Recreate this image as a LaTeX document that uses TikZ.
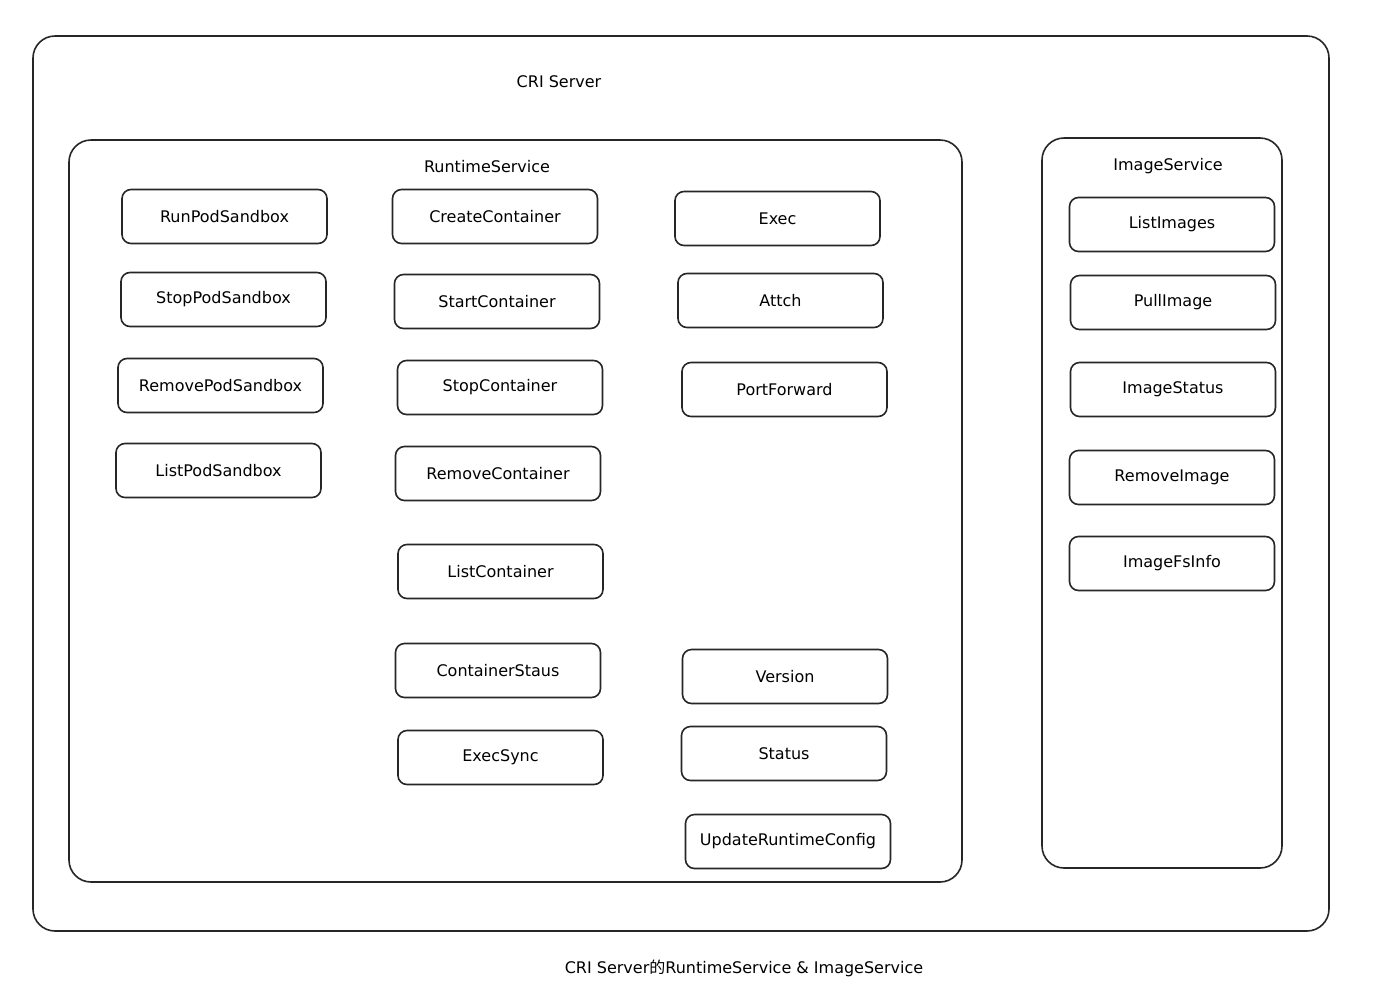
\documentclass[tikz,border=0pt]{standalone}
\usepackage{fontspec}
\setmainfont{DejaVu Sans}
\newfontfamily\cjk{Noto Sans CJK SC}
\begin{document}
\begin{tikzpicture}[x=1pt,y=-1pt,
  frame/.style={draw=black!85,line width=1.6pt,rounded corners=22pt},
  op/.style={draw=black!85,line width=1.6pt,rounded corners=9pt,minimum width=205pt,minimum height=54pt,inner sep=0pt,font=\fontsize{16}{19}\selectfont},
  lbl/.style={font=\fontsize{16}{19}\selectfont,inner sep=0pt}]
\useasboundingbox (0,0) rectangle (1376,994);
\draw[frame] (33,36) rectangle (1329,931);
\node[lbl] (crititle) at (559,82) {CRI Server};
\draw[frame] (69,140) rectangle (962,882);
\node[lbl] (rttitle) at (487,167) {RuntimeService};
\draw[frame] (1042,138) rectangle (1282,868);
\node[lbl] (imgtitle) at (1168,166) {ImageService};
% column 1
\node[op] (runpod) at (224.5,216.5) {RunPodSandbox};
\node[op] (stoppod) at (223.5,299.5) {StopPodSandbox};
\node[op] (rmpod) at (220.5,385.5) {RemovePodSandbox};
\node[op] (listpod) at (218.5,470.5) {ListPodSandbox};
% column 2
\node[op] (create) at (495,216.5) {CreateContainer};
\node[op] (start) at (497,301.5) {StartContainer};
\node[op] (stop) at (500,387.5) {StopContainer};
\node[op] (remove) at (498,473.5) {RemoveContainer};
\node[op] (list) at (500.5,571.5) {ListContainer};
\node[op] (cstatus) at (498,670.5) {ContainerStaus};
\node[op] (execsync) at (500.5,757.5) {ExecSync};
% column 3
\node[op] (exec) at (777.5,218.5) {Exec};
\node[op] (attch) at (780.5,300.5) {Attch};
\node[op] (portfwd) at (784.5,389.5) {PortForward};
\node[op] (version) at (785,676.5) {Version};
\node[op] (status) at (784,753.5) {Status};
\node[op] (update) at (788,841.5) {UpdateRuntimeConfig};
% image service
\node[op] (listimg) at (1172,224.5) {ListImages};
\node[op] (pullimg) at (1173,302.5) {PullImage};
\node[op] (imgstatus) at (1173,389.5) {ImageStatus};
\node[op] (rmimg) at (1172,477.5) {RemoveImage};
\node[op] (imgfs) at (1172,563.5) {ImageFsInfo};
\node[lbl] (caption) at (744,968) {CRI Server{\cjk 的}RuntimeService \& ImageService};
\end{tikzpicture}
\end{document}
